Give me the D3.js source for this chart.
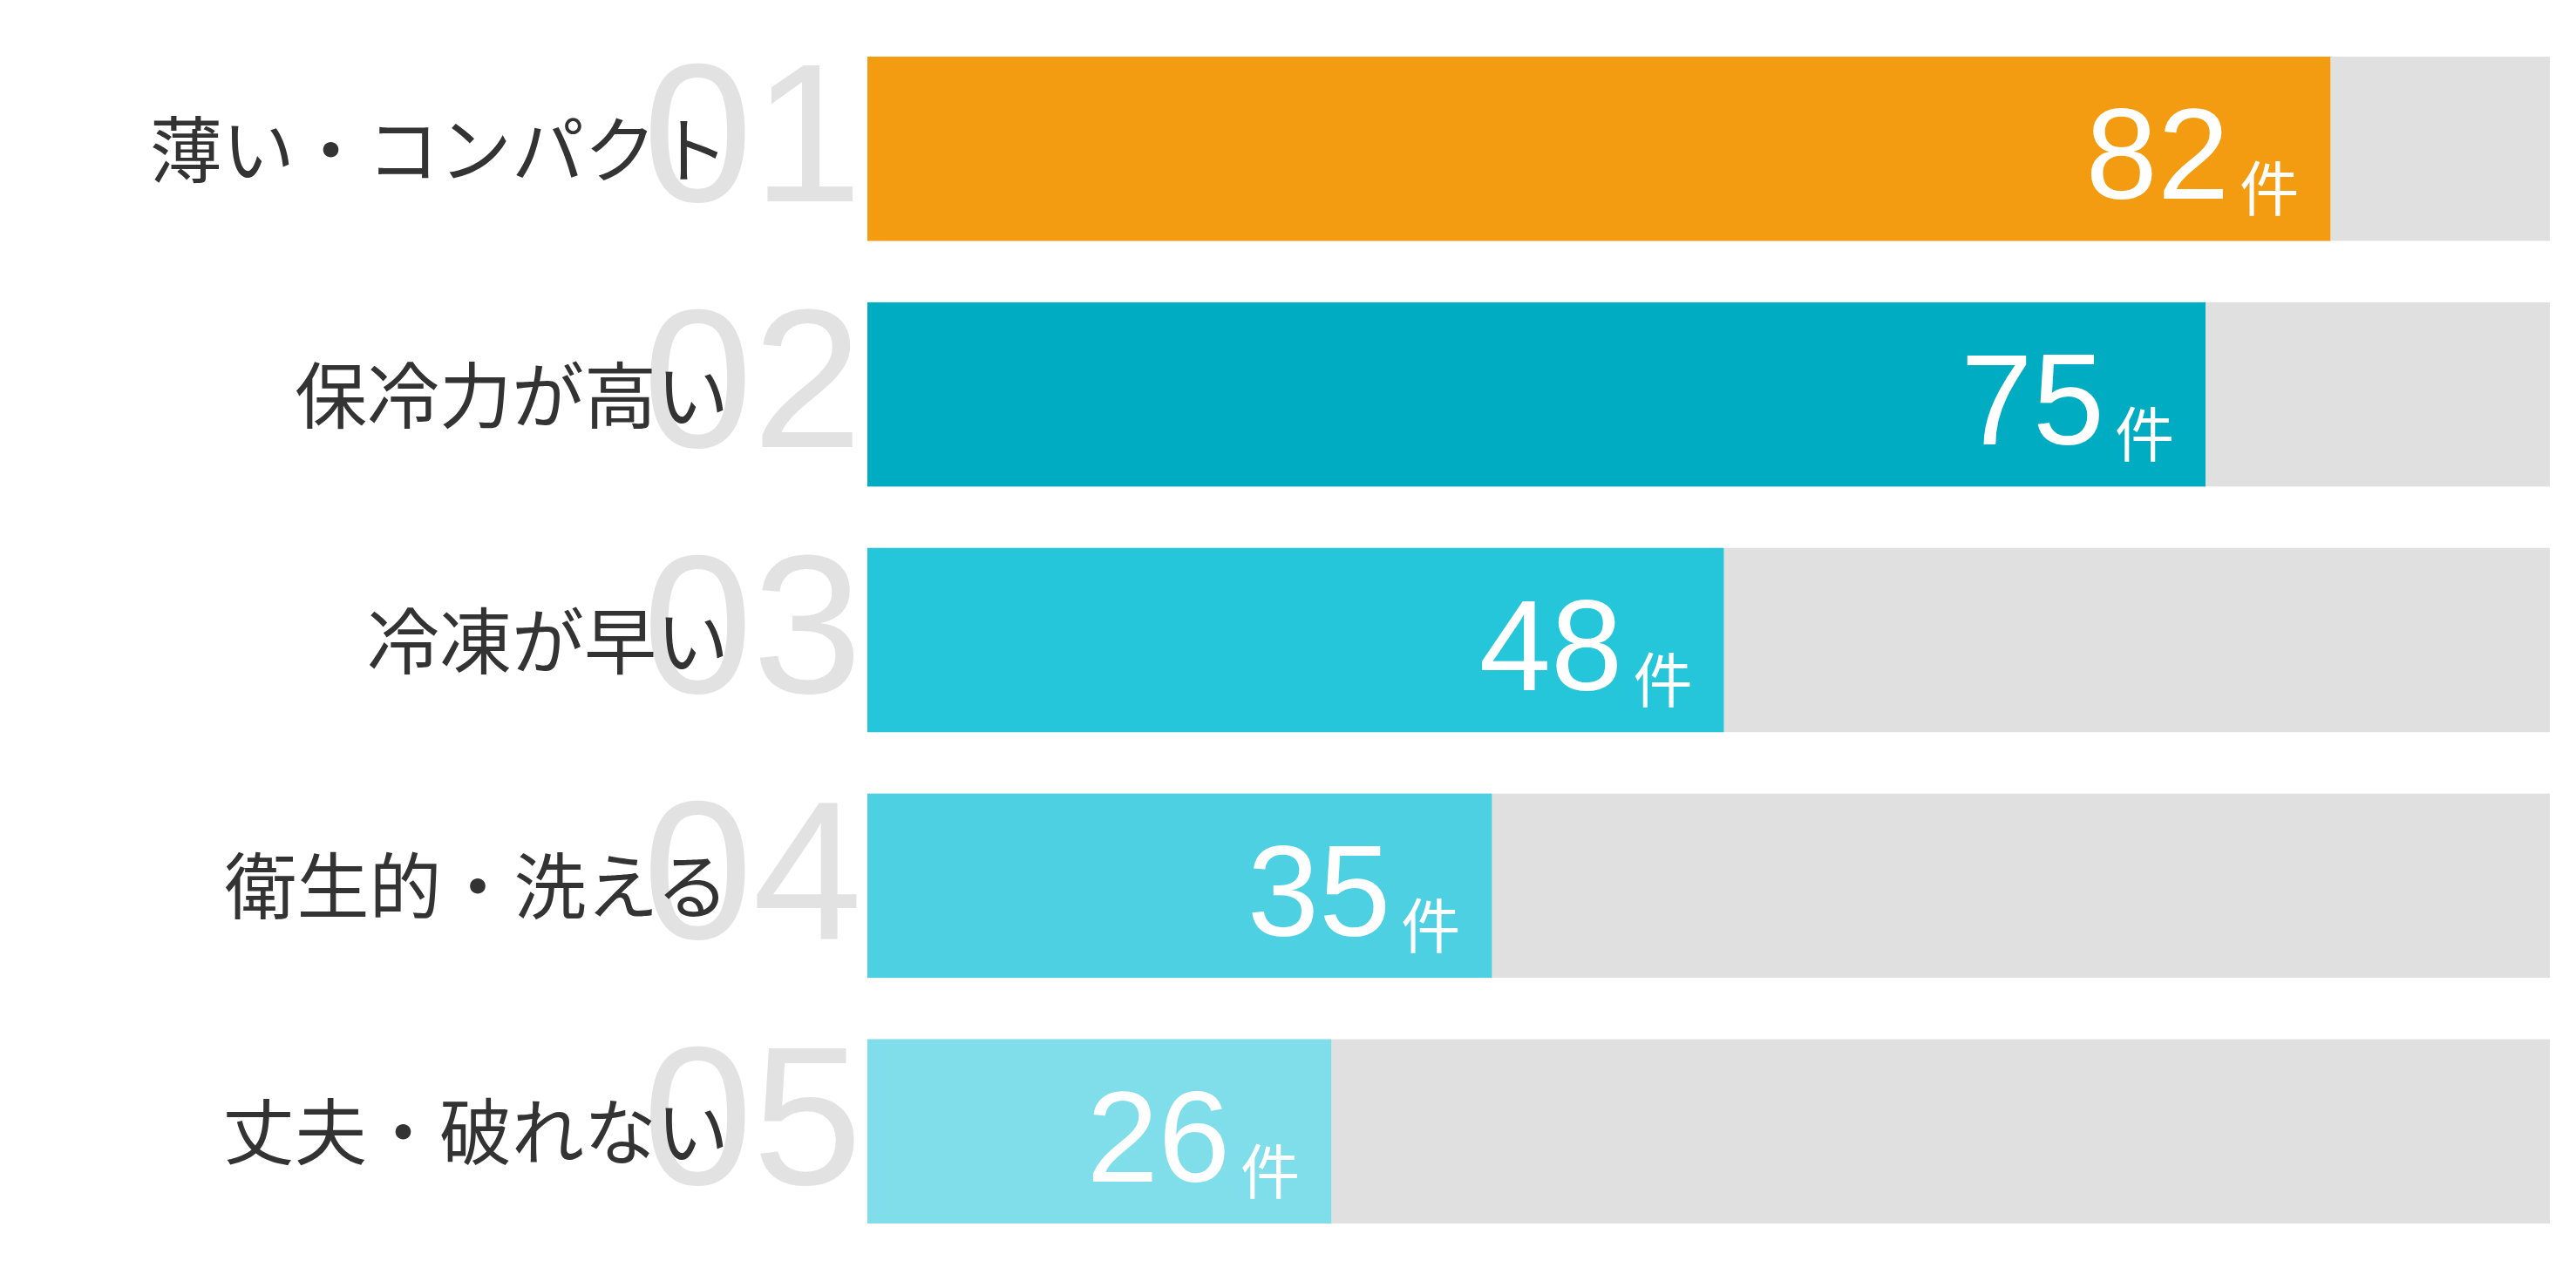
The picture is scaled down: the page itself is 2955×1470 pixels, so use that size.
<!DOCTYPE html>
<html lang="ja">
<head>
<meta charset="utf-8">
<script src="https://cdn.jsdelivr.net/npm/d3@7"></script>
<style>
  html, body { margin: 0; padding: 0; background: #fff; }
  svg { display: block; }
</style>
</head>
<body>
<div id="chart"></div>
<script>
const width = 2955
const height = 1470

// data
const ranks = ['01', '02', '03', '04', '05']
const categories = ['薄い・コンパクト', '保冷力が高い', '冷凍が早い', '衛生的・洗える', '丈夫・破れない']
const counts = [82, 75, 48, 35, 26]
const unit = '件'
const scaleMax = 94.3

const barColors = ['#F39C12', '#00ACC1', '#26C6DA', '#4DD0E1', '#80DEEA']

const jpFont = "'Noto Sans CJK JP', 'Noto Sans', sans-serif"
const numFont = "'Liberation Sans', Arial, sans-serif"

const svg = d3
  .select('#chart')
  .append('svg')
  .attr('width', width)
  .attr('height', height)

const x = d3.scaleLinear().domain([0, scaleMax]).range([995, 2925])

const y = d3
  .scaleBand()
  .domain(categories)
  .range([65, 1404])
  .paddingInner(0.25)
  .paddingOuter(0)

const rows = categories.map((c, i) => ({
  category: c,
  rank: ranks[i],
  value: counts[i],
  color: barColors[i]
}))

// background tracks
svg
  .append('g')
  .selectAll('rect')
  .data(rows)
  .enter()
  .append('rect')
  .attr('x', x(0))
  .attr('y', d => y(d.category))
  .attr('width', x(scaleMax) - x(0))
  .attr('height', y.bandwidth())
  .attr('fill', '#E0E0E0')

// value bars
svg
  .append('g')
  .selectAll('rect')
  .data(rows)
  .enter()
  .append('rect')
  .attr('x', x(0))
  .attr('y', d => y(d.category))
  .attr('width', d => x(d.value) - x(0))
  .attr('height', y.bandwidth())
  .attr('fill', d => d.color)

// big rank numbers behind the labels
svg
  .append('g')
  .selectAll('text')
  .data(rows)
  .enter()
  .append('text')
  .attr('x', x(0) - 6)
  .attr('y', d => y(d.category) + y.bandwidth() * 0.787)
  .attr('text-anchor', 'end')
  .style('font-family', numFont)
  .style('font-size', '226px')
  .style('fill', '#E2E2E2')
  .text(d => d.rank)

// category labels
svg
  .append('g')
  .selectAll('text')
  .data(rows)
  .enter()
  .append('text')
  .attr('x', 836)
  .attr('y', d => y(d.category) + y.bandwidth() / 2 - 4)
  .attr('text-anchor', 'end')
  .attr('dominant-baseline', 'central')
  .style('font-family', jpFont)
  .style('font-size', '83px')
  .style('fill', '#333')
  .text(d => d.category)

// value labels inside the bars
const valueText = svg
  .append('g')
  .selectAll('text')
  .data(rows)
  .enter()
  .append('text')
  .attr('x', d => x(d.value) - 36)
  .attr('y', d => y(d.category) + y.bandwidth() * 0.772)
  .attr('text-anchor', 'end')
  .style('fill', '#fff')

valueText
  .append('tspan')
  .style('font-family', numFont)
  .style('font-size', '148px')
  .text(d => d.value)

valueText
  .append('tspan')
  .attr('dx', 12)
  .attr('dy', 14)
  .style('font-family', jpFont)
  .style('font-size', '68px')
  .text(unit)
</script>
</body>
</html>
